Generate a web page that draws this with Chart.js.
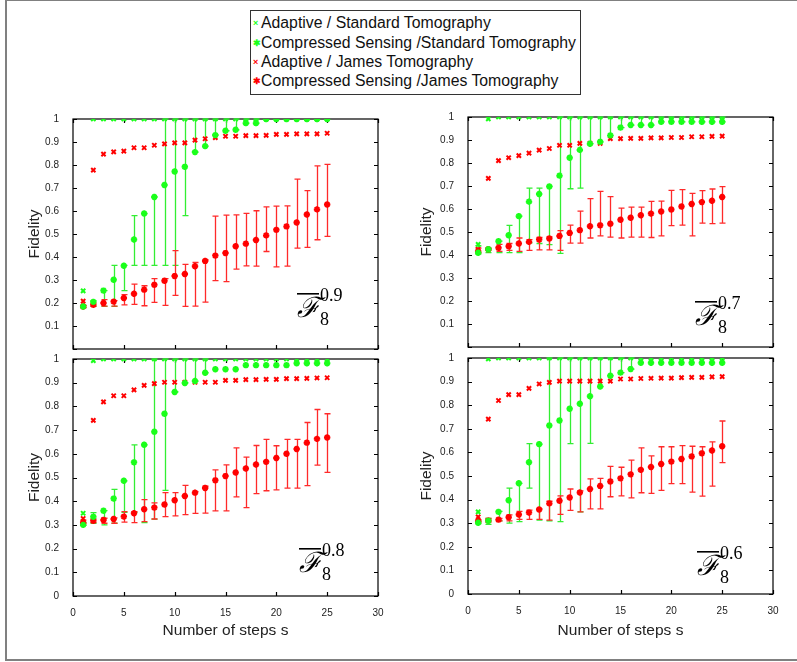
<!DOCTYPE html>
<html>
<head>
<meta charset="utf-8">
<title>Fidelity vs number of steps</title>
<script src="https://cdn.jsdelivr.net/npm/chart.js@4.4.1/dist/chart.umd.min.js"></script>
<style>
  body { margin: 0; background: #fff; }
  #figure { position: relative; width: 797px; height: 662px; overflow: hidden; font-family: "Liberation Sans", Arial, sans-serif; }
  #frame { position: absolute; left: 5px; top: -1px; width: 820px; height: 658px; border: 2px solid #808080; }
  canvas { position: absolute; }
  #legend { position: absolute; left: 250px; top: 10px; width: 329px; height: 83px; border: 1px solid #333; background: #fff; z-index: 5; }
  #legend div { position: absolute; left: 2px; font-size: 15.8px; line-height: 18px; color: #111; white-space: nowrap; }
  #legend .mk { display: inline-block; width: 8px; font-size: 9px; font-weight: bold; vertical-align: 2px; }
</style>
</head>
<body>
<div id="figure">
  <div id="frame"></div>
  <div id="legend">
    <div style="top:3px"><span class="mk" style="color:#1aff1a">&times;</span>Adaptive / Standard Tomography</div>
    <div style="top:23px"><span class="mk" style="color:#1aff1a">&#10033;</span>Compressed Sensing /Standard Tomography</div>
    <div style="top:42px"><span class="mk" style="color:#ff0000">&times;</span>Adaptive / James Tomography</div>
    <div style="top:61px"><span class="mk" style="color:#ff0000">&#10033;</span>Compressed Sensing /James Tomography</div>
  </div>
  <canvas id="c09" width="363" height="254" style="left:25px; top:107px"></canvas>
  <canvas id="c07" width="366" height="254" style="left:417px; top:105px"></canvas>
  <canvas id="c08" width="363" height="293" style="left:25px; top:347px"></canvas>
  <canvas id="c06" width="366" height="294" style="left:417px; top:346px"></canvas>
</div>
<script>
// number of steps s
const steps = [1, 2, 3, 4, 5, 6, 7, 8, 9, 10, 11, 12, 13, 14, 15, 16, 17, 18, 19, 20, 21, 22, 23, 24, 25];
const xTicks = [0, 5, 10, 15, 20, 25, 30];
const yTicks = [0, 0.1, 0.2, 0.3, 0.4, 0.5, 0.6, 0.7, 0.8, 0.9, 1];

// F8 ^ 0.9
const adStd09 = [0.253, 1, 1, 1, 1, 1, 1, 1, 1, 1, 1, 1, 1, 1, 1, 1, 1, 1, 1, 1, 1, 1, 1, 1, 1];
const csStd09 = [0.185, 0.205, 0.254, 0.301, 0.362, 0.476, 0.589, 0.661, 0.713, 0.772, 0.792, 0.856, 0.882, 0.930, 0.949, 0.953, 0.982, 0.982, 1, 1, 1, 1, 1, 1, 1];
const csStd09Lo = [0.180, 0.186, 0.185, 0.185, 0.254, 0.364, 0.364, 0.364, 0.364, 0.364, 0.580, 0.856, 0.882, 0.930, 0.949, 0.953, 0.982, 0.982, 1, 1, 1, 1, 1, 1, 1];
const csStd09Hi = [0.190, 0.210, 0.254, 0.364, 0.364, 0.580, 0.589, 0.661, 1, 1, 1, 1, 1, 1, 1, 1, 1, 1, 1, 1, 1, 1, 1, 1, 1];
const adJames09 = [0.208, 0.778, 0.847, 0.857, 0.860, 0.875, 0.875, 0.886, 0.892, 0.896, 0.896, 0.908, 0.914, 0.919, 0.925, 0.925, 0.928, 0.928, 0.929, 0.933, 0.933, 0.935, 0.935, 0.935, 0.938];
const csJames09 = [0.185, 0.192, 0.200, 0.206, 0.222, 0.240, 0.258, 0.279, 0.297, 0.317, 0.326, 0.360, 0.383, 0.406, 0.417, 0.447, 0.458, 0.474, 0.494, 0.518, 0.533, 0.550, 0.585, 0.607, 0.628];
const csJames09Lo = [0.180, 0.185, 0.186, 0.186, 0.192, 0.194, 0.188, 0.203, 0.190, 0.233, 0.185, 0.186, 0.204, 0.297, 0.293, 0.347, 0.361, 0.360, 0.424, 0.357, 0.360, 0.439, 0.442, 0.475, 0.490];
const csJames09Hi = [0.190, 0.200, 0.215, 0.210, 0.236, 0.282, 0.275, 0.306, 0.306, 0.428, 0.368, 0.376, 0.388, 0.578, 0.582, 0.583, 0.590, 0.601, 0.618, 0.621, 0.622, 0.739, 0.689, 0.796, 0.803];

// F8 ^ 0.7
const adStd07 = [0.446, 0.992, 1, 1, 1, 1, 1, 1, 1, 1, 1, 1, 1, 1, 1, 1, 1, 1, 1, 1, 1, 1, 1, 1, 1];
const csStd07 = [0.410, 0.425, 0.460, 0.486, 0.569, 0.632, 0.665, 0.698, 0.745, 0.823, 0.857, 0.884, 0.892, 0.920, 0.954, 0.965, 0.965, 0.965, 0.979, 0.979, 0.979, 0.979, 0.979, 0.979, 0.979];
const csStd07Lo = [0.405, 0.410, 0.410, 0.410, 0.410, 0.453, 0.450, 0.445, 0.407, 0.688, 0.691, 0.884, 0.892, 0.920, 0.954, 0.965, 0.965, 0.965, 0.979, 0.979, 0.979, 0.979, 0.979, 0.979, 0.979];
const csStd07Hi = [0.440, 0.430, 0.460, 0.529, 0.569, 0.691, 0.691, 0.698, 1, 1, 1, 1, 1, 1, 1, 1, 1, 1, 1, 1, 1, 1, 1, 1, 1];
const adJames07 = [0.425, 0.733, 0.810, 0.823, 0.832, 0.843, 0.856, 0.863, 0.877, 0.877, 0.885, 0.885, 0.885, 0.906, 0.906, 0.907, 0.907, 0.909, 0.909, 0.911, 0.911, 0.914, 0.914, 0.916, 0.917];
const csJames07 = [0.416, 0.425, 0.431, 0.438, 0.450, 0.457, 0.467, 0.472, 0.483, 0.496, 0.508, 0.525, 0.529, 0.536, 0.553, 0.562, 0.573, 0.580, 0.589, 0.598, 0.611, 0.622, 0.630, 0.636, 0.652];
const csJames07Lo = [0.410, 0.420, 0.416, 0.420, 0.416, 0.420, 0.422, 0.422, 0.420, 0.452, 0.452, 0.474, 0.483, 0.478, 0.474, 0.478, 0.478, 0.476, 0.483, 0.528, 0.530, 0.483, 0.539, 0.536, 0.539];
const csJames07Hi = [0.430, 0.430, 0.446, 0.450, 0.474, 0.467, 0.476, 0.479, 0.506, 0.530, 0.591, 0.645, 0.677, 0.654, 0.604, 0.608, 0.608, 0.633, 0.634, 0.681, 0.684, 0.668, 0.680, 0.687, 0.697];

// F8 ^ 0.8
const adStd08 = [0.349, 0.993, 1, 1, 1, 1, 1, 1, 1, 1, 1, 1, 1, 1, 1, 1, 1, 1, 1, 1, 1, 1, 1, 1, 1];
const csStd08 = [0.300, 0.334, 0.360, 0.411, 0.486, 0.564, 0.638, 0.693, 0.769, 0.861, 0.899, 0.907, 0.942, 0.957, 0.957, 0.957, 0.974, 0.974, 0.974, 0.974, 0.974, 0.982, 0.982, 0.982, 0.982];
const csStd08Lo = [0.298, 0.307, 0.300, 0.307, 0.353, 0.353, 0.310, 0.324, 0.446, 0.861, 0.899, 0.907, 0.942, 0.957, 0.957, 0.957, 0.974, 0.974, 0.974, 0.974, 0.974, 0.982, 0.982, 0.982, 0.982];
const csStd08Hi = [0.310, 0.352, 0.360, 0.450, 0.486, 0.638, 0.638, 1, 1, 1, 1, 1, 1, 0.957, 0.957, 0.957, 0.974, 0.974, 0.974, 0.974, 0.974, 0.982, 0.982, 0.982, 0.982];
const adJames08 = [0.327, 0.741, 0.819, 0.845, 0.845, 0.870, 0.889, 0.896, 0.902, 0.902, 0.902, 0.902, 0.902, 0.902, 0.910, 0.910, 0.913, 0.913, 0.914, 0.914, 0.917, 0.917, 0.918, 0.920, 0.921];
const csJames08 = [0.310, 0.317, 0.321, 0.325, 0.335, 0.349, 0.366, 0.373, 0.386, 0.404, 0.422, 0.436, 0.456, 0.488, 0.506, 0.521, 0.538, 0.555, 0.566, 0.582, 0.600, 0.620, 0.647, 0.663, 0.669];
const csJames08Lo = [0.305, 0.310, 0.307, 0.307, 0.312, 0.310, 0.314, 0.325, 0.335, 0.338, 0.343, 0.349, 0.350, 0.359, 0.359, 0.418, 0.373, 0.432, 0.444, 0.448, 0.455, 0.455, 0.466, 0.552, 0.522];
const csJames08Hi = [0.320, 0.325, 0.328, 0.330, 0.356, 0.356, 0.407, 0.393, 0.436, 0.436, 0.467, 0.440, 0.463, 0.532, 0.553, 0.625, 0.586, 0.635, 0.661, 0.634, 0.661, 0.661, 0.732, 0.787, 0.769];

// F8 ^ 0.6
const adStd06 = [0.348, 0.996, 1, 1, 1, 1, 1, 1, 1, 1, 1, 1, 1, 1, 1, 1, 1, 1, 1, 1, 1, 1, 1, 1, 1];
const csStd06 = [0.302, 0.310, 0.348, 0.397, 0.469, 0.558, 0.635, 0.714, 0.735, 0.785, 0.806, 0.838, 0.879, 0.925, 0.938, 0.953, 0.980, 0.980, 0.980, 0.980, 0.980, 0.980, 0.980, 0.980, 0.980];
const csStd06Lo = [0.298, 0.295, 0.310, 0.300, 0.307, 0.449, 0.313, 0.310, 0.307, 0.637, 0.348, 0.638, 0.879, 0.925, 0.938, 0.953, 0.980, 0.980, 0.980, 0.980, 0.980, 0.980, 0.980, 0.980, 0.980];
const csStd06Hi = [0.310, 0.320, 0.350, 0.449, 0.469, 0.637, 0.635, 1, 1, 1, 1, 1, 1, 1, 1, 1, 0.980, 0.980, 0.980, 0.980, 0.980, 0.980, 0.980, 0.980, 0.980];
const adJames06 = [0.327, 0.741, 0.820, 0.845, 0.845, 0.871, 0.890, 0.897, 0.902, 0.902, 0.902, 0.902, 0.902, 0.902, 0.911, 0.911, 0.913, 0.914, 0.915, 0.915, 0.917, 0.918, 0.918, 0.920, 0.921];
const csJames06 = [0.308, 0.311, 0.315, 0.325, 0.337, 0.345, 0.358, 0.384, 0.395, 0.409, 0.430, 0.445, 0.458, 0.477, 0.490, 0.507, 0.526, 0.538, 0.551, 0.561, 0.572, 0.583, 0.596, 0.608, 0.626];
const csJames06Lo = [0.305, 0.305, 0.310, 0.310, 0.316, 0.316, 0.316, 0.313, 0.337, 0.354, 0.348, 0.361, 0.361, 0.412, 0.416, 0.407, 0.429, 0.426, 0.439, 0.468, 0.468, 0.432, 0.415, 0.457, 0.557];
const csJames06Hi = [0.315, 0.320, 0.320, 0.335, 0.350, 0.355, 0.361, 0.393, 0.416, 0.445, 0.437, 0.488, 0.490, 0.541, 0.537, 0.567, 0.619, 0.585, 0.624, 0.624, 0.629, 0.626, 0.624, 0.645, 0.733];

const GREEN = '#1aff1a';
const RED = '#ff0000';

Chart.defaults.font.family = '"Liberation Sans", Arial, sans-serif';
Chart.defaults.color = '#222';

const fmt = v => String(Number(v.toFixed(1)));

// error bars with caps, drawn under the markers
const errorBars = {
  id: 'errorBars',
  beforeDatasetsDraw(chart) {
    const {ctx, scales: {x, y}} = chart;
    chart.data.datasets.forEach(ds => {
      if (!ds.errLo) return;
      ctx.save();
      ctx.strokeStyle = ds.barColor;
      ctx.lineWidth = 1.3;
      ds.data.forEach((p, j) => {
        const px = Math.round(x.getPixelForValue(p.x)) + 0.5;
        const top = y.getPixelForValue(ds.errHi[j]);
        const bot = y.getPixelForValue(ds.errLo[j]);
        if (Math.abs(bot - top) < 1) return;
        ctx.beginPath();
        ctx.moveTo(px, top); ctx.lineTo(px, bot);
        ctx.moveTo(px - 3, top); ctx.lineTo(px + 3, top);
        ctx.moveTo(px - 3, bot); ctx.lineTo(px + 3, bot);
        ctx.stroke();
      });
      ctx.restore();
    });
  }
};

// boxed axes with inward ticks on all four sides
const boxAxes = {
  id: 'boxAxes',
  beforeDatasetsDraw(chart) {
    const {ctx, chartArea: a, scales: {x, y}} = chart;
    ctx.save();
    ctx.strokeStyle = '#000';
    ctx.lineWidth = 1.2;
    ctx.strokeRect(a.left, a.top, a.right - a.left, a.bottom - a.top);
    ctx.beginPath();
    x.ticks.forEach(t => {
      const px = Math.round(x.getPixelForValue(t.value)) + 0.5;
      ctx.moveTo(px, a.bottom); ctx.lineTo(px, a.bottom - 4);
      ctx.moveTo(px, a.top); ctx.lineTo(px, a.top + 4);
    });
    y.ticks.forEach(t => {
      const py = Math.round(y.getPixelForValue(t.value)) + 0.5;
      ctx.moveTo(a.left, py); ctx.lineTo(a.left + 4, py);
      ctx.moveTo(a.right, py); ctx.lineTo(a.right - 4, py);
    });
    ctx.stroke();
    ctx.restore();
  }
};

// overlined script F with subscript 8 and the exponent
const powerLabel = {
  id: 'powerLabel',
  afterDatasetsDraw(chart, args, opts) {
    if (!opts.power) return;
    const {ctx, chartArea: a} = chart;
    const fx = a.right + opts.dx;
    const fb = a.bottom + opts.dy;
    ctx.save();
    ctx.fillStyle = '#000';
    ctx.textBaseline = 'alphabetic';
    ctx.font = 'italic 28px "DejaVu Serif", serif';
    ctx.fillText('\u2131', fx, fb);
    ctx.fillRect(fx, fb - 24, 22, 1.6);
    ctx.font = '18px "Liberation Serif", serif';
    ctx.fillText(opts.power, fx + 23, fb - 16);
    ctx.fillText('8', fx + 23, fb + 8);
    ctx.restore();
  }
};

function points(vals) {
  return steps.map((s, i) => ({x: s, y: vals[i]}));
}

function makePanel(id, p) {
  const ctx = document.getElementById(id).getContext('2d');
  return new Chart(ctx, {
    type: 'scatter',
    data: {
      datasets: [
        {label: 'Adaptive / Standard Tomography', data: points(p.adStd),
         pointStyle: 'crossRot', pointRadius: 3, borderWidth: 2, borderColor: GREEN, backgroundColor: GREEN},
        {label: 'Compressed Sensing /Standard Tomography', data: points(p.csStd),
         errLo: p.csStdLo, errHi: p.csStdHi, barColor: '#33ee33',
         pointStyle: 'star', pointRadius: 3.2, borderWidth: 2, borderColor: GREEN, backgroundColor: GREEN},
        {label: 'Adaptive / James Tomography', data: points(p.adJames),
         pointStyle: 'crossRot', pointRadius: 3, borderWidth: 2, borderColor: RED, backgroundColor: RED},
        {label: 'Compressed Sensing /James Tomography', data: points(p.csJames),
         errLo: p.csJamesLo, errHi: p.csJamesHi, barColor: '#ff2a2a',
         pointStyle: 'star', pointRadius: 3.2, borderWidth: 2, borderColor: RED, backgroundColor: RED}
      ]
    },
    options: {
      responsive: false,
      animation: false,
      events: [],
      layout: {padding: {top: 8, right: 10, bottom: p.bottomRow ? 0 : 6, left: 0}},
      plugins: {
        legend: {display: false},
        tooltip: {enabled: false},
        powerLabel: {power: p.power, dx: p.dx, dy: p.dy}
      },
      scales: {
        x: {
          type: 'linear', min: 0, max: 30,
          afterBuildTicks: s => { s.ticks = xTicks.map(v => ({value: v})); },
          grid: {display: false},
          border: {display: false},
          ticks: {display: p.bottomRow, padding: 3, font: {size: 10}},
          title: {display: p.bottomRow, text: 'Number of steps s', padding: 0, font: {size: 15.5}, color: '#222'},
          afterFit: s => { s.height = p.xHeight; }
        },
        y: {
          type: 'linear', min: 0, max: 1,
          afterBuildTicks: s => { s.ticks = yTicks.map(v => ({value: v})); },
          grid: {display: false},
          border: {display: false},
          ticks: {padding: 6, font: {size: 10}, callback: v => (v === 0 && !p.bottomRow) ? '' : fmt(v)},
          title: {display: true, text: 'Fidelity', padding: 0, font: {size: 15.5}, color: '#222'},
          afterFit: s => { s.width = p.yWidth; }
        }
      }
    },
    plugins: [boxAxes, errorBars, powerLabel]
  });
}

document.addEventListener('DOMContentLoaded', function() {
  makePanel('c09', {adStd: adStd09, csStd: csStd09, csStdLo: csStd09Lo, csStdHi: csStd09Hi,
    adJames: adJames09, csJames: csJames09, csJamesLo: csJames09Lo, csJamesHi: csJames09Hi,
    power: '0.9', dx: -81, dy: -32, bottomRow: false, xHeight: 0, yWidth: 48});
  makePanel('c07', {adStd: adStd07, csStd: csStd07, csStdLo: csStd07Lo, csStdHi: csStd07Hi,
    adJames: adJames07, csJames: csJames07, csJamesLo: csJames07Lo, csJamesHi: csJames07Hi,
    power: '0.7', dx: -78, dy: -22, bottomRow: false, xHeight: 0, yWidth: 51});
  makePanel('c08', {adStd: adStd08, csStd: csStd08, csStdLo: csStd08Lo, csStdHi: csStd08Hi,
    adJames: adJames08, csJames: csJames08, csJamesLo: csJames08Lo, csJamesHi: csJames08Hi,
    power: '0.8', dx: -79, dy: -24, bottomRow: true, xHeight: 44, yWidth: 48});
  makePanel('c06', {adStd: adStd06, csStd: csStd06, csStdLo: csStd06Lo, csStdHi: csStd06Hi,
    adJames: adJames06, csJames: csJames06, csJamesLo: csJames06Lo, csJamesHi: csJames06Hi,
    power: '0.6', dx: -76, dy: -19, bottomRow: true, xHeight: 46, yWidth: 51});
});
</script>
</body>
</html>
